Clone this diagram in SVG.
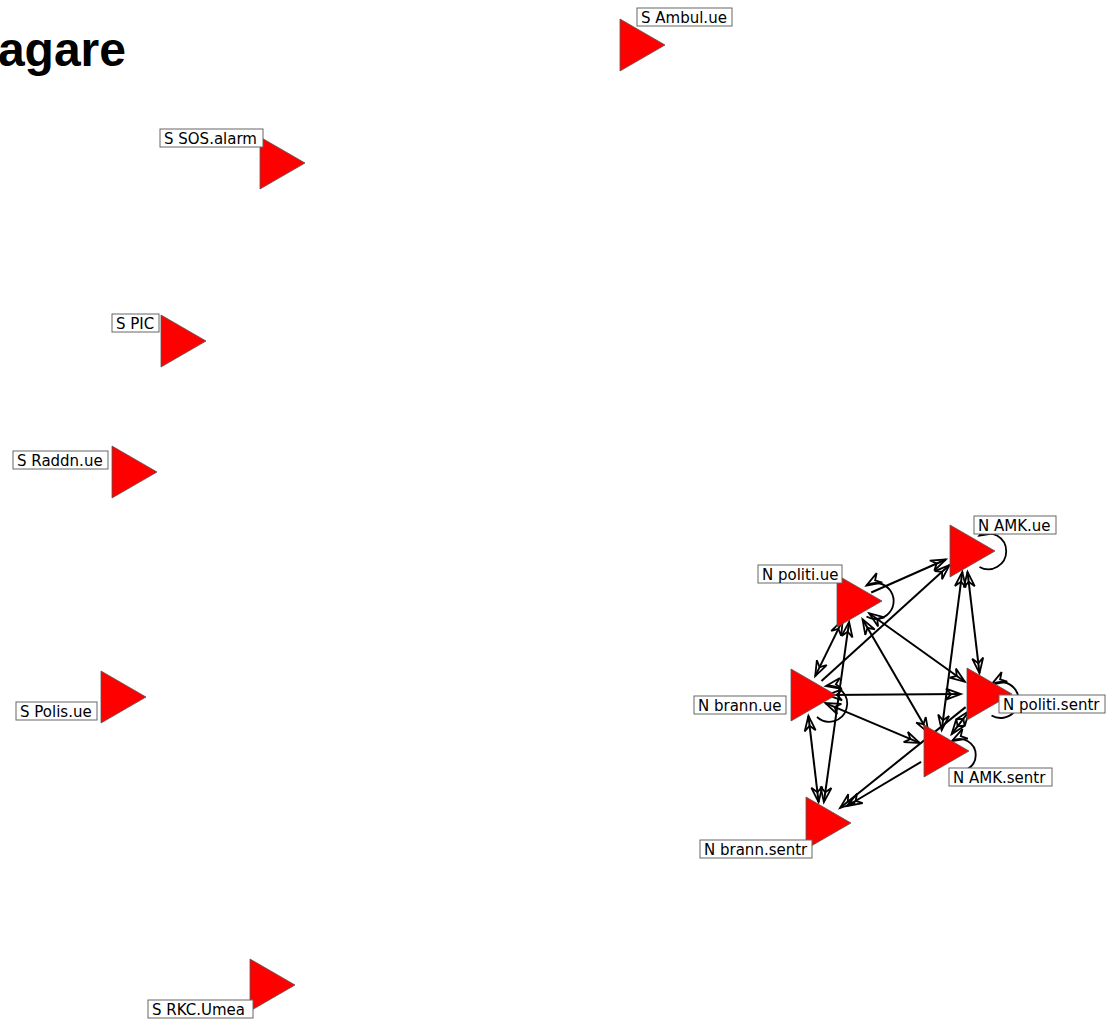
<svg xmlns="http://www.w3.org/2000/svg" width="1108" height="1021" viewBox="0 0 1108 1021">
<style>
.tri{fill:#ff0000;stroke:#555555;stroke-width:0.8}
.lb{fill:#ffffff;stroke:#666666;stroke-width:1}
.lt{font-family:"DejaVu Sans","Liberation Sans",sans-serif;font-size:15px;fill:#000000}
.e{stroke:#000000;stroke-width:2;fill:none;marker-end:url(#ah)}
.b{marker-start:url(#ahs)}
.lp{stroke:#000000;stroke-width:1.8;fill:none;marker-end:url(#ah)}
.title{font-family:"Liberation Sans",Arial,sans-serif;font-weight:bold;font-size:48px;fill:#000000}
</style>
<defs>
<marker id="ah" markerUnits="userSpaceOnUse" viewBox="-18 -8 20 16" refX="0" refY="0" markerWidth="20" markerHeight="16" orient="auto" overflow="visible">
<path d="M0,0 L-15,-5.5 L-10,0 L-15,5.5 Z" fill="none" stroke="#000000" stroke-width="1.8" stroke-linejoin="miter"/>
</marker>
<marker id="ahs" markerUnits="userSpaceOnUse" viewBox="-18 -8 20 16" refX="0" refY="0" markerWidth="20" markerHeight="16" orient="auto-start-reverse" overflow="visible">
<path d="M0,0 L-15,-5.5 L-10,0 L-15,5.5 Z" fill="none" stroke="#000000" stroke-width="1.8" stroke-linejoin="miter"/>
</marker>
</defs>
<rect x="0" y="0" width="1108" height="1021" fill="#ffffff"/>
<text class="title" x="126" y="66" text-anchor="end">agare</text>
<g id="connectors">
<line class="e" x1="871.2" y1="592.5" x2="945.8" y2="559.5"/>
<line class="e" x1="821.5" y1="680.9" x2="949.5" y2="565.1"/>
<line class="e b" x1="962.3" y1="571.8" x2="941.7" y2="730.2"/>
<line class="e b" x1="967.5" y1="571.9" x2="979.5" y2="673.1"/>
<line class="e b" x1="842.8" y1="619.9" x2="815.2" y2="676.1"/>
<line class="e b" x1="869.1" y1="613.2" x2="964.9" y2="681.8"/>
<line class="e b" x1="862.5" y1="619.2" x2="928.5" y2="732.8"/>
<line class="e b" x1="849.1" y1="621.8" x2="823.9" y2="802.2"/>
<line class="e b" x1="827" y1="694.9" x2="961" y2="694.1"/>
<line class="e b" x1="825.4" y1="703.1" x2="919.6" y2="742.9"/>
<line class="e b" x1="808.4" y1="715.9" x2="818.6" y2="802.1"/>
<line class="e b" x1="969.4" y1="710.8" x2="951.6" y2="734.2"/>
<line class="e" x1="965.6" y1="707.1" x2="840" y2="808"/>
<line class="e" x1="921.1" y1="761.9" x2="847" y2="806"/>
<path class="lp" d="M979.5,567 A18,18 0 1 0 979.5,535.5"/>
<path class="lp" d="M866.5,616.5 A18,18 0 1 0 866.5,585.5"/>
<path class="lp" d="M817,717 A18,18 0 1 0 826,686"/>
<path class="lp" d="M991.5,715.5 A18,18 0 1 0 991.5,684.5"/>
<path class="lp" d="M952,769 A16,16 0 1 0 952,741"/>
</g>
<g id="node-s-ambul-ue">
<polygon class="tri" points="665,45 620,19 620,71"/>
<rect class="lb" x="637" y="8" width="95" height="18"/>
<text class="lt" x="641" y="23">S Ambul.ue</text>
</g>
<g id="node-s-sos-alarm">
<polygon class="tri" points="305,163 260,137 260,189"/>
<rect class="lb" x="160" y="129" width="103" height="18"/>
<text class="lt" x="164" y="144">S SOS.alarm</text>
</g>
<g id="node-s-pic">
<polygon class="tri" points="206,341 161,315 161,367"/>
<rect class="lb" x="112" y="314" width="47" height="18"/>
<text class="lt" x="116" y="329">S PIC</text>
</g>
<g id="node-s-raddn-ue">
<polygon class="tri" points="157,472 112,446 112,498"/>
<rect class="lb" x="13" y="451" width="95" height="18"/>
<text class="lt" x="17" y="466">S Raddn.ue</text>
</g>
<g id="node-s-polis-ue">
<polygon class="tri" points="146,697 101,671 101,723"/>
<rect class="lb" x="16" y="702" width="81" height="18"/>
<text class="lt" x="20" y="717">S Polis.ue</text>
</g>
<g id="node-s-rkc-umea">
<polygon class="tri" points="295,985 250,959 250,1011"/>
<rect class="lb" x="148" y="1000" width="105" height="18"/>
<text class="lt" x="152" y="1015">S RKC.Umea</text>
</g>
<g id="node-n-amk-ue">
<polygon class="tri" points="995,551 950,525 950,577"/>
<rect class="lb" x="974" y="516" width="82" height="18"/>
<text class="lt" x="978" y="531">N AMK.ue</text>
</g>
<g id="node-n-politi-ue">
<polygon class="tri" points="882,601 837,575 837,627"/>
<rect class="lb" x="758" y="565" width="84" height="18"/>
<text class="lt" x="762" y="580">N politi.ue</text>
</g>
<g id="node-n-brann-ue">
<polygon class="tri" points="836,695 791,669 791,721"/>
<rect class="lb" x="694" y="696" width="92" height="18"/>
<text class="lt" x="698" y="711">N brann.ue</text>
</g>
<g id="node-n-politi-sentr">
<polygon class="tri" points="1012,694 967,668 967,720"/>
<rect class="lb" x="999" y="695" width="106" height="18"/>
<text class="lt" x="1003" y="710">N politi.sentr</text>
</g>
<g id="node-n-amk-sentr">
<polygon class="tri" points="969,751 924,725 924,777"/>
<rect class="lb" x="949" y="768" width="103" height="18"/>
<text class="lt" x="953" y="783">N AMK.sentr</text>
</g>
<g id="node-n-brann-sentr">
<polygon class="tri" points="851,823 806,797 806,849"/>
<rect class="lb" x="700" y="840" width="112" height="18"/>
<text class="lt" x="704" y="855">N brann.sentr</text>
</g>
</svg>
